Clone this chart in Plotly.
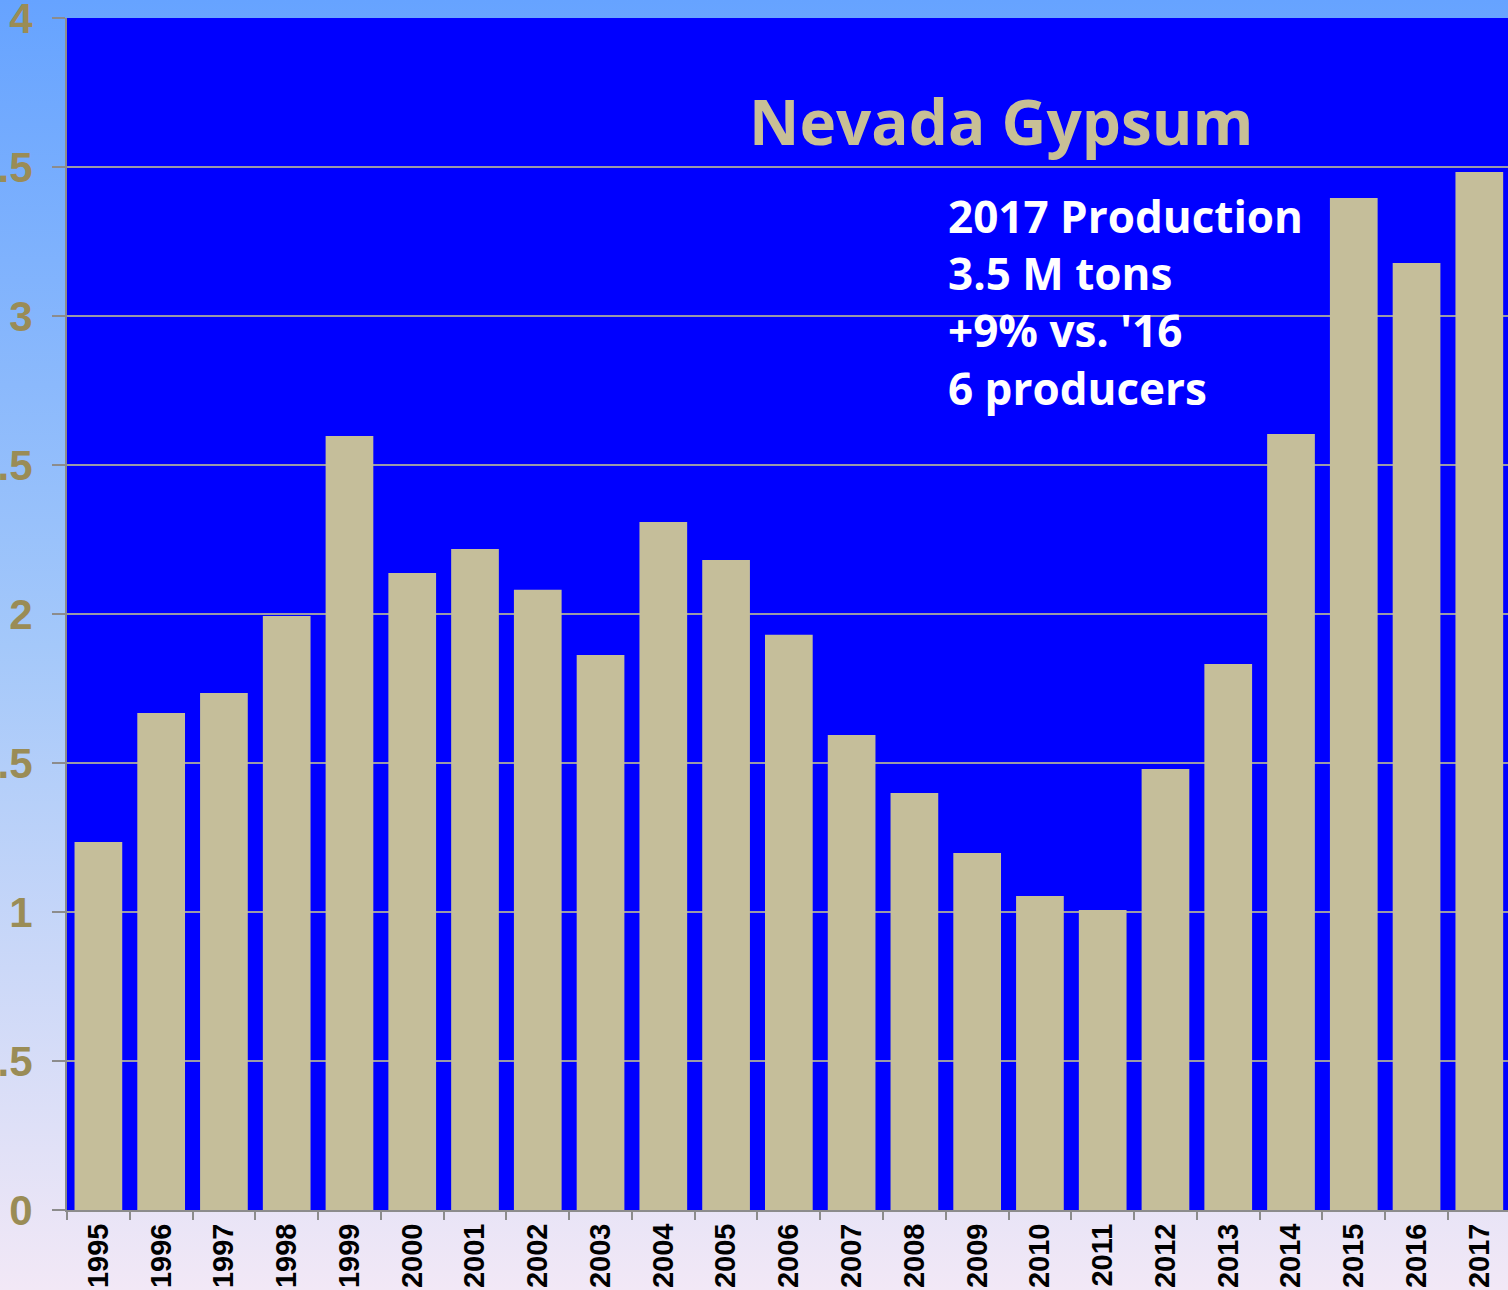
import base64
import plotly.graph_objects as go

years = [str(y) for y in range(1995, 2018)]
production = [1.235, 1.668, 1.735, 1.993, 2.597, 2.138, 2.218, 2.081, 1.862, 2.309,
              2.181, 1.930, 1.594, 1.399, 1.198, 1.054, 1.007, 1.480, 1.832, 2.604,
              3.396, 3.178, 3.483]
y_ticks = [0, 0.5, 1, 1.5, 2, 2.5, 3, 3.5, 4]
title_text = "Nevada Gypsum"
note_lines = ["2017 Production", "3.5 M tons", "+9% vs. '16", "6 producers"]

W, H = 1508, 1290
L, R, T, B = 67, 0, 18, 80

svg = (
    '<svg xmlns="http://www.w3.org/2000/svg" width="100" height="100" preserveAspectRatio="none">'
    '<defs><linearGradient id="g" x1="0" y1="0" x2="0" y2="1">'
    '<stop offset="0" stop-color="#66a3ff"/>'
    '<stop offset="0.5" stop-color="#a4c8fa"/>'
    '<stop offset="1" stop-color="#f2e8f6"/>'
    '</linearGradient></defs>'
    '<rect width="100" height="100" fill="url(#g)"/></svg>'
)
svg_uri = "data:image/svg+xml;base64," + base64.b64encode(svg.encode()).decode()

pw, ph = W - L - R, H - T - B
x0p, x1p = -L / pw, (W - L) / pw
y0p, y1p = -B / ph, (H - B) / ph

fig = go.Figure()
fig.add_trace(go.Bar(
    x=years, y=production,
    marker=dict(color="#c5be9a", line=dict(width=0)),
    hoverinfo="x+y",
))

fig.update_layout(
    width=W, height=H,
    margin=dict(l=L, r=R, t=T, b=B, autoexpand=False),
    paper_bgcolor="#a4c8fa",
    plot_bgcolor="#0000ff",
    bargap=0.24,
    showlegend=False,
    images=[dict(source=svg_uri, xref="paper", yref="paper", x=x0p, y=y1p,
                 sizex=x1p - x0p, sizey=y1p - y0p, xanchor="left", yanchor="top",
                 sizing="stretch", layer="below")],
    shapes=[dict(type="rect", xref="paper", yref="paper", x0=0, x1=1, y0=0, y1=1,
                 fillcolor="#0000ff", line=dict(width=0), layer="below")],
    xaxis=dict(
        type="category", range=[-0.5, 22.457],
        tickson="boundaries", ticks="outside", ticklen=8, tickwidth=2, tickcolor="#8c8c8c",
        showline=True, linecolor="#8c8c8c", linewidth=2,
        tickangle=-90,
        tickfont=dict(family="Liberation Sans Narrow, Arial Narrow, Liberation Sans, Arial",
                      size=29, color="#000000", weight="bold"),
        showgrid=False, zeroline=False,
    ),
    yaxis=dict(
        range=[0, 4], tickvals=y_ticks,
        ticks="outside", ticklen=13, tickwidth=2, tickcolor="#8c8c8c",
        showline=True, linecolor="#8c8c8c", linewidth=2,
        showgrid=True, gridcolor="#9a9aa8", gridwidth=1.5,
        zeroline=False,
        ticklabelstandoff=11,
        ticklabeloverflow="allow",
        tickfont=dict(family="Liberation Sans, Arial", size=42, color="#9a8c56", weight="bold"),
    ),
    annotations=[
        dict(text=title_text, xref="paper", yref="paper",
             x=(1001 - L) / pw, y=(H - B - 121) / ph, xanchor="center", yanchor="middle",
             showarrow=False,
             font=dict(family="Open Sans", size=62, color="#c8bf96", weight="bold")),
        dict(text="<br>".join(note_lines), xref="paper", yref="paper",
             x=(946 - L) / pw, y=(H - B - 184) / ph, xanchor="left", yanchor="top",
             align="left", showarrow=False,
             font=dict(family="Open Sans", size=44, color="#ffffff", weight="bold")),
    ],
)

fig.write_html("out.html", post_script="document.body.style.margin='0';",
               config={"displayModeBar": False})
